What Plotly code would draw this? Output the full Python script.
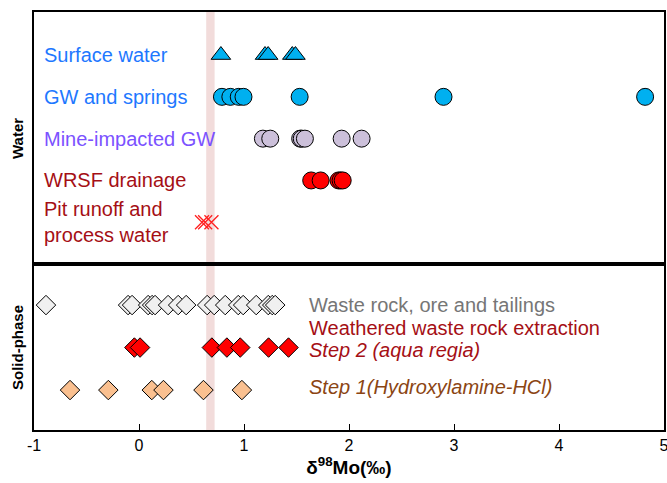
import plotly.graph_objects as go
from plotly.subplots import make_subplots

# ---- data (δ98Mo, ‰) ----
surface_water = [0.78, 1.20, 1.23, 1.46, 1.49]
gw_springs = [0.79, 0.87, 0.95, 0.995, 1.53, 2.90, 4.82]
mine_gw = [1.18, 1.25, 1.535, 1.55, 1.58, 1.93, 2.12]
wrsf = [1.64, 1.73, 1.90, 1.92, 1.94]
pit_runoff = [0.60, 0.63, 0.69]

waste_rock = [-0.886, -0.104, -0.066, 0.087, 0.125, 0.153, 0.277, 0.373, 0.449,
              0.649, 0.716, 0.821, 0.945, 0.992, 1.116, 1.231, 1.269, 1.297]
step2 = [-0.044, 0.010, 0.694, 0.837, 0.964, 1.234, 1.424]
step1 = [-0.657, -0.292, 0.122, 0.233, 0.614, 0.980]

band = [0.64, 0.72]
x_ticks = [-1, 0, 1, 2, 3, 4, 5]
x_tick_labels = ["-1", "0", "1", "2", "3", "4", "5"]

water_labels = ["Surface water", "GW and springs", "Mine-impacted GW", "WRSF drainage",
                "Pit runoff and<br>process water"]
water_label_colors = ["#1E78FF", "#1E78FF", "#7B52FF", "#A50F15", "#A50F15"]
water_rows = [5, 4, 3, 2, 1]

FONT = "Liberation Sans, Arial, sans-serif"

fig = make_subplots(rows=2, cols=1, shared_xaxes=False, vertical_spacing=0,
                    row_heights=[0.603, 0.397])

def row_y(vals, y):
    return [y] * len(vals)

line = dict(color="black", width=1)
fig.add_trace(go.Scatter(x=surface_water, y=row_y(surface_water, 5), mode="markers",
                         marker=dict(symbol="triangle-up", size=17, color="#00B0F0", line=line)), 1, 1)
fig.add_trace(go.Scatter(x=gw_springs, y=row_y(gw_springs, 4), mode="markers",
                         marker=dict(symbol="circle", size=17, color="#00B0F0", line=line)), 1, 1)
fig.add_trace(go.Scatter(x=mine_gw, y=row_y(mine_gw, 3), mode="markers",
                         marker=dict(symbol="circle", size=17, color="#CCC0DA", line=line)), 1, 1)
fig.add_trace(go.Scatter(x=wrsf, y=row_y(wrsf, 2), mode="markers",
                         marker=dict(symbol="circle", size=17, color="#FF0000", line=line)), 1, 1)
fig.add_trace(go.Scatter(x=pit_runoff, y=row_y(pit_runoff, 1), mode="markers",
                         marker=dict(symbol="x-thin", size=14, color="#FF0000",
                                     line=dict(color="#FF2020", width=1.3))), 1, 1)

fig.add_trace(go.Scatter(x=waste_rock, y=row_y(waste_rock, 3), mode="markers",
                         marker=dict(symbol="diamond", size=15, color="#F0F0F0", line=line)), 2, 1)
fig.add_trace(go.Scatter(x=step2, y=row_y(step2, 2), mode="markers",
                         marker=dict(symbol="diamond", size=15, color="#FF0000", line=line)), 2, 1)
fig.add_trace(go.Scatter(x=step1, y=row_y(step1, 1), mode="markers",
                         marker=dict(symbol="diamond", size=15, color="#FAC090", line=line)), 2, 1)

# labels
for lab, col, yy in zip(water_labels, water_label_colors, water_rows):
    fig.add_annotation(x=-0.92, y=yy, text=lab, xref="x", yref="y", showarrow=False,
                       xanchor="left", yanchor="middle", align="left",
                       font=dict(family=FONT, size=20, color=col))

solid_labels = [
    ("Waste rock, ore and tailings", 3.0, "#767676"),
    ("Weathered waste rock extraction", 2.45, "#A50F15"),
    ("<i>Step 2 (aqua regia)</i>", 1.95, "#A50F15"),
    ("<i>Step 1(Hydroxylamine-HCl)</i>", 1.07, "#8B4513"),
]
for lab, yy, col in solid_labels:
    fig.add_annotation(x=1.60, y=yy, text=lab, xref="x2", yref="y2", showarrow=False,
                       xanchor="left", yanchor="middle",
                       font=dict(family=FONT, size=20, color=col))

# panel titles (rotated, left of axes)
fig.add_annotation(x=-0.027, y=0.5, xref="paper", yref="y domain", text="<b>Water</b>",
                   textangle=-90, showarrow=False, xanchor="center", yanchor="middle",
                   font=dict(family=FONT, size=15, color="black"))
fig.add_annotation(x=-0.027, y=0.5, xref="paper", yref="y2 domain", text="<b>Solid-phase</b>",
                   textangle=-90, showarrow=False, xanchor="center", yanchor="middle",
                   font=dict(family=FONT, size=15, color="black"))

# reference band
fig.add_shape(type="rect", x0=band[0], x1=band[1], y0=0, y1=1, xref="x", yref="paper",
              fillcolor="#F2DCDB", line=dict(width=0), layer="below")

axis_common = dict(showline=True, linecolor="black", linewidth=1.5, mirror=True,
                   showgrid=False, zeroline=False, range=[-1, 5], automargin=False)
fig.update_xaxes(**axis_common, row=1, col=1, showticklabels=False, ticks="")
fig.update_xaxes(**axis_common, row=2, col=1, tickvals=x_ticks, ticktext=x_tick_labels,
                 ticks="inside", ticklen=6, ticklabeloverflow="allow",
                 tickcolor="black", tickfont=dict(family=FONT, size=16, color="black"),
                 title=dict(text="<b>δ<sup>98</sup>Mo(‰)</b>", standoff=2,
                            font=dict(family=FONT, size=19, color="black")))
fig.update_yaxes(showline=True, linecolor="black", linewidth=1.5, mirror=True,
                 showgrid=False, zeroline=False, showticklabels=False, ticks="",
                 automargin=False)
fig.update_yaxes(range=[0, 6.03], row=1, col=1)
fig.update_yaxes(range=[0.06, 3.965], row=2, col=1)

fig.update_layout(width=667, height=483, showlegend=False,
                  margin=dict(l=34, r=3, t=12, b=53),
                  plot_bgcolor="white", paper_bgcolor="white",
                  font=dict(family=FONT))

fig.write_html("out.html", config={"displayModeBar": False},
               post_script="document.body.style.margin='0';document.body.style.overflow='hidden';")
